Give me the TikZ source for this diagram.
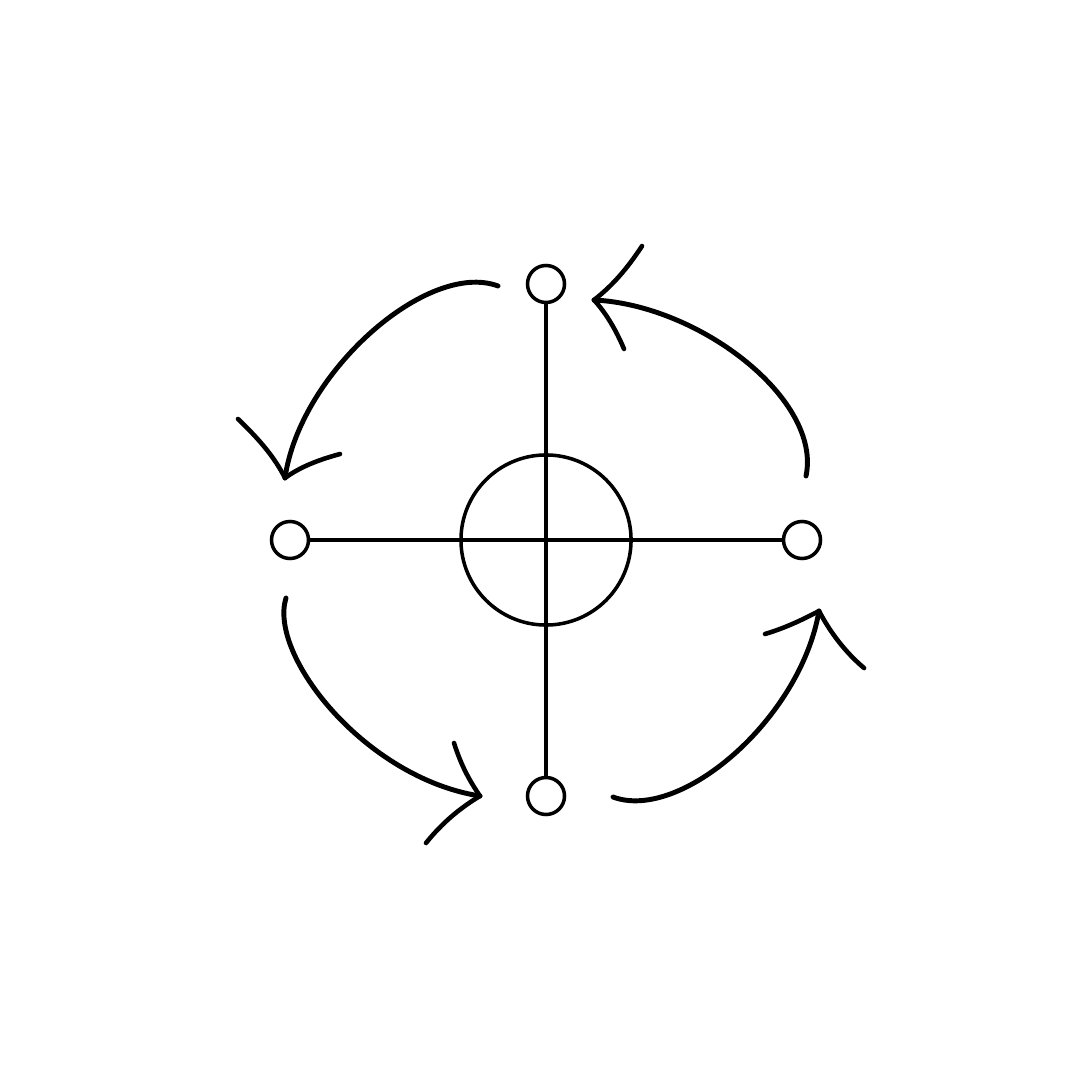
\documentclass[tikz,border=0pt]{standalone}
\begin{document}
\begin{tikzpicture}[x=0.01cm,y=-0.01cm,
  ring/.style={circle,draw,line width=1pt,minimum size=0.37cm,inner sep=0pt},
  hub/.style={circle,draw,line width=1pt,minimum size=1.7cm,inner sep=0pt},
  axis/.style={line width=1pt},
  flow/.style={line width=1.4pt,line cap=round},
  wing/.style={line width=1.3pt,line cap=round}]
\useasboundingbox[fill=white] (0,0) rectangle (1080,1080);
\node[hub] (c) at (546,540) {};
\node[ring] (t) at (546,284) {};
\node[ring] (b) at (546,796) {};
\node[ring] (l) at (290,540) {};
\node[ring] (r) at (802,540) {};
\draw[axis] (t) -- (b);
\draw[axis] (l) -- (r);
% arrow 1 (top to left)
\coordinate (s1) at (498,286); \coordinate (h1) at (285,478);
\coordinate (a1) at (238,419); \coordinate (b1) at (340,454);
\draw[flow] (s1) .. controls (428,260) and (300,372) .. (h1);
\draw[wing] (a1) .. controls (260,440) and (275,458) .. (h1);
\draw[wing] (b1) .. controls (318,460) and (300,467) .. (h1);
% arrow 2 (right to top)
\coordinate (s2) at (806,476); \coordinate (h2) at (594,300);
\coordinate (a2) at (642,246); \coordinate (b2) at (624,349);
\draw[flow] (s2) .. controls (822,400) and (700,305) .. (h2);
\draw[wing] (a2) .. controls (627,269) and (612,286) .. (h2);
\draw[wing] (b2) .. controls (616,330) and (606,313) .. (h2);
% arrow 3 (left to bottom)
\coordinate (s3) at (286,598); \coordinate (h3) at (480,796);
\coordinate (a3) at (454,743); \coordinate (b3) at (426,843);
\draw[flow] (s3) .. controls (268,655) and (365,778) .. (h3);
\draw[wing] (a3) .. controls (461,765) and (469,780) .. (h3);
\draw[wing] (b3) .. controls (442,823) and (460,808) .. (h3);
% arrow 4 (bottom to right)
\coordinate (s4) at (613,797); \coordinate (h4) at (819,611);
\coordinate (a4) at (765,634); \coordinate (b4) at (864,668);
\draw[flow] (s4) .. controls (680,822) and (800,720) .. (h4);
\draw[wing] (a4) .. controls (785,628) and (802,620) .. (h4);
\draw[wing] (b4) .. controls (845,652) and (830,632) .. (h4);
\end{tikzpicture}
\end{document}
